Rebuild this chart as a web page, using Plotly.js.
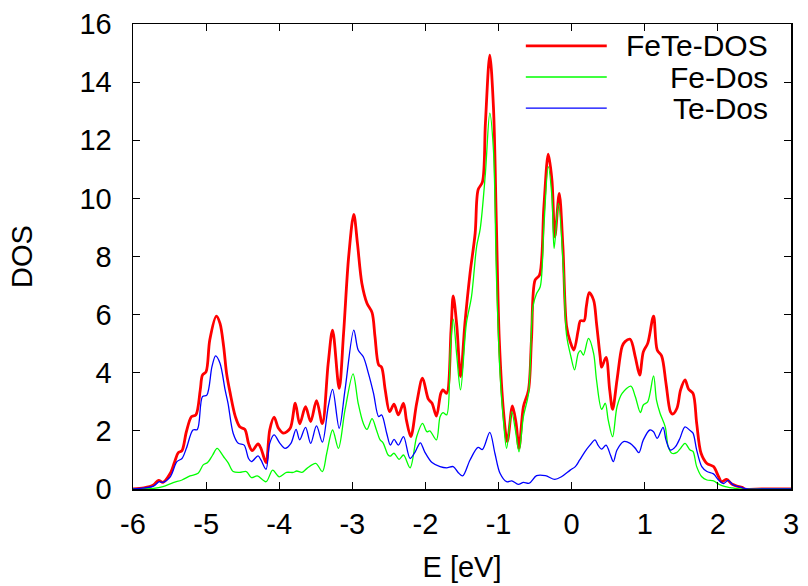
<!DOCTYPE html>
<html>
<head>
<meta charset="utf-8">
<script src="https://cdn.plot.ly/plotly-3.0.1.min.js"></script>
<style>html,body{margin:0;padding:0;background:#fff;}#chart{width:808px;height:586px;}</style>
</head>
<body>
<div id="chart"></div>
<script>
// FeTe total DOS (red)
var energyFeTe = [-6.00,-5.85,-5.72,-5.65,-5.59,-5.49,-5.43,-5.38,-5.33,-5.27,-5.20,-5.14,-5.08,-5.05,-5.00,-4.95,-4.86,-4.81,-4.76,-4.72,-4.67,-4.60,-4.54,-4.47,-4.42,-4.37,-4.29,-4.25,-4.18,-4.13,-4.07,-4.01,-3.94,-3.85,-3.78,-3.72,-3.64,-3.57,-3.49,-3.41,-3.33,-3.27,-3.18,-3.12,-3.05,-2.98,-2.93,-2.87,-2.80,-2.73,-2.69,-2.64,-2.60,-2.55,-2.49,-2.43,-2.37,-2.30,-2.26,-2.20,-2.12,-2.04,-1.96,-1.91,-1.85,-1.79,-1.76,-1.71,-1.65,-1.62,-1.57,-1.52,-1.46,-1.39,-1.32,-1.28,-1.22,-1.18,-1.12,-1.07,-1.03,-0.99,-0.93,-0.88,-0.81,-0.76,-0.72,-0.66,-0.59,-0.55,-0.50,-0.44,-0.38,-0.32,-0.27,-0.23,-0.17,-0.12,-0.07,-0.02,0.03,0.09,0.12,0.17,0.20,0.24,0.30,0.34,0.39,0.41,0.47,0.52,0.56,0.62,0.69,0.73,0.80,0.87,0.93,0.98,1.04,1.12,1.17,1.23,1.29,1.35,1.38,1.44,1.49,1.55,1.60,1.66,1.71,1.77,1.85,1.94,2.01,2.05,2.12,2.19,2.26,2.33,2.37,2.60,3.00];
var dosFeTe = [0,0.04,0.14,0.30,0.23,0.54,0.94,1.25,1.32,1.97,2.49,2.55,3.41,3.92,4.04,5.13,5.95,5.70,4.90,3.98,3.29,2.49,2.14,2.05,1.57,1.32,1.55,1.40,0.91,2.03,2.47,2.09,1.92,2.09,2.95,2.24,2.83,2.32,3.04,2.25,4.33,5.47,3.46,5.35,8.00,9.45,8.45,7.08,6.39,6.07,5.24,4.27,4.19,3.41,2.66,2.92,2.55,2.95,2.37,1.80,2.95,3.81,3.09,2.95,2.51,3.29,3.41,3.29,5.47,6.64,5.59,3.87,5.70,7.42,8.80,10.29,10.57,12.58,14.93,13.15,9.14,5.13,2.60,1.63,2.86,2.26,1.40,2.83,3.41,5.13,7.19,7.36,9.71,11.52,10.63,8.68,10.17,8.34,5.60,5.07,4.78,5.47,5.79,5.79,6.27,6.76,6.50,5.70,4.55,4.19,4.53,3.41,2.74,3.75,4.90,5.07,5.15,4.55,3.92,4.72,5.01,5.95,4.78,4.58,3.64,2.66,2.58,2.78,3.41,3.75,3.43,3.29,2.26,1.23,0.88,0.77,0.42,0.25,0.33,0.17,0.10,0.06,0,0,0];

// Fe partial DOS (green)
var energyFe = [-6.00,-5.72,-5.59,-5.45,-5.33,-5.22,-5.11,-5.04,-4.98,-4.91,-4.85,-4.76,-4.70,-4.63,-4.54,-4.45,-4.38,-4.30,-4.18,-4.09,-4.00,-3.90,-3.81,-3.76,-3.69,-3.62,-3.50,-3.41,-3.35,-3.27,-3.19,-3.10,-2.99,-2.92,-2.85,-2.80,-2.73,-2.67,-2.62,-2.58,-2.51,-2.48,-2.43,-2.36,-2.30,-2.21,-2.12,-2.04,-1.98,-1.94,-1.85,-1.80,-1.76,-1.71,-1.66,-1.62,-1.57,-1.52,-1.44,-1.37,-1.30,-1.25,-1.18,-1.12,-1.07,-1.03,-0.98,-0.93,-0.89,-0.82,-0.77,-0.72,-0.66,-0.59,-0.53,-0.48,-0.43,-0.38,-0.32,-0.27,-0.24,-0.18,-0.11,-0.07,-0.01,0.04,0.09,0.12,0.16,0.23,0.30,0.34,0.41,0.46,0.50,0.56,0.62,0.69,0.81,0.87,0.94,0.98,1.04,1.12,1.16,1.21,1.28,1.32,1.37,1.44,1.49,1.55,1.62,1.66,1.71,1.78,1.85,1.94,2.01,2.10,2.17,2.30,2.60,3.00];
var dosFe = [0,0.02,0.08,0.22,0.31,0.45,0.54,0.83,0.91,1.17,1.40,1.11,0.91,0.60,0.57,0.60,0.39,0.45,0.25,0.65,0.42,0.57,0.57,0.62,0.57,0.71,0.88,0.60,1.23,2.03,1.40,2.72,3.96,2.95,2.26,2.05,2.42,2.03,1.69,1.59,1.17,1.13,1.23,1.02,1.17,0.73,1.80,2.26,1.97,2.00,1.69,2.49,2.63,2.55,4.78,5.84,4.55,3.41,5.70,6.62,8.34,8.97,10.86,12.93,11.67,7.42,3.98,2.26,1.40,2.66,2.03,1.28,2.49,3.29,6.27,6.73,6.96,9.03,11.09,10.06,8.28,9.83,7.42,5.30,4.55,4.10,4.67,4.76,4.61,5.18,4.67,3.75,2.74,2.95,2.37,1.80,2.83,3.29,3.54,3.18,2.63,2.89,3.00,3.89,3.06,2.60,2.14,1.46,1.23,1.26,1.40,1.57,1.34,1.29,0.77,0.42,0.31,0.28,0.17,0.08,0.05,0,0,0];

// Te partial DOS (blue)
var energyTe = [-6.00,-5.72,-5.64,-5.59,-5.49,-5.40,-5.33,-5.27,-5.18,-5.12,-5.05,-4.99,-4.92,-4.87,-4.81,-4.74,-4.70,-4.63,-4.56,-4.48,-4.42,-4.38,-4.29,-4.25,-4.18,-4.13,-4.07,-3.99,-3.92,-3.84,-3.77,-3.72,-3.64,-3.57,-3.49,-3.41,-3.33,-3.27,-3.18,-3.10,-2.98,-2.92,-2.85,-2.78,-2.71,-2.64,-2.60,-2.53,-2.48,-2.43,-2.37,-2.30,-2.21,-2.14,-2.07,-2.01,-1.91,-1.80,-1.71,-1.62,-1.55,-1.49,-1.39,-1.28,-1.22,-1.12,-1.05,-0.98,-0.89,-0.82,-0.73,-0.66,-0.58,-0.48,-0.36,-0.23,-0.14,-0.02,0.05,0.11,0.18,0.25,0.32,0.36,0.41,0.47,0.53,0.57,0.62,0.71,0.80,0.87,0.92,0.98,1.07,1.12,1.17,1.25,1.29,1.35,1.42,1.48,1.55,1.62,1.66,1.71,1.78,1.85,1.94,2.01,2.08,2.14,2.21,2.33,2.40,2.60,3.00];
var dosTe = [0,0.10,0.25,0.23,0.42,0.94,1.05,1.40,2.03,2.05,3.18,3.23,4.21,4.58,4.33,3.41,2.95,1.92,1.57,1.51,1.05,0.94,1.14,1.00,0.68,1.57,1.86,1.57,1.40,1.57,2.05,1.69,2.12,1.57,2.17,1.61,2.83,3.43,2.09,3.41,5.47,4.78,4.55,3.98,3.29,2.49,2.55,1.92,1.51,1.71,1.51,1.80,1.05,1.28,1.59,1.28,0.91,0.77,0.73,0.77,0.56,0.45,1.00,1.43,1.36,1.95,1.23,0.54,0.25,0.28,0.16,0.23,0.20,0.46,0.46,0.33,0.42,0.65,0.77,1.00,1.28,1.51,1.69,1.51,1.37,1.51,1.17,0.94,1.34,1.63,1.57,1.40,1.25,1.69,2.03,1.97,1.74,2.12,1.69,1.34,1.46,1.74,2.14,2.01,1.92,1.34,0.77,0.60,0.52,0.31,0.19,0.30,0.14,0.05,0,0,0];

// axis ticks and labels
var xTickVals = [-6, -5, -4, -3, -2, -1, 0, 1, 2, 3];
var xTickText = ['-6', '-5', '-4', '-3', '-2', '-1', '0', '1', '2', '3'];
var yTickVals = [0, 2, 4, 6, 8, 10, 12, 14, 16];
var yTickText = ['0', '2', '4', '6', '8', '10', '12', '14', '16'];

var seriesNames = ['FeTe-DOS', 'Fe-Dos', 'Te-Dos'];
var xTitle = 'E [eV]';
var yTitle = 'DOS';

var FONT = 'Liberation Sans, Arial, Helvetica, sans-serif';
var FS = 29;
var colors = ['#ff0000', '#00ff00', '#0000ff'];
var widths = [2.8, 1.3, 1.3];

var traces = [
  {x: energyFeTe, y: dosFeTe},
  {x: energyFe, y: dosFe},
  {x: energyTe, y: dosTe}
].map(function (t, i) {
  return {
    x: t.x, y: t.y, type: 'scatter', mode: 'lines', name: seriesNames[i],
    line: {color: colors[i], width: widths[i], shape: 'spline', smoothing: 0.9},
    showlegend: false, hoverinfo: 'skip'
  };
});

// gnuplot-style key drawn as shapes + text (sample line left, label right-justified)
var keyY = [0.953, 0.886, 0.819];
var shapes = keyY.map(function (yy, i) {
  return {type: 'line', xref: 'paper', yref: 'paper', x0: 0.597, x1: 0.720, y0: yy, y1: yy,
          line: {color: colors[i], width: widths[i]}};
});
var annotations = keyY.map(function (yy, i) {
  return {xref: 'paper', yref: 'paper', x: 0.968, y: yy, xanchor: 'right', yanchor: 'middle',
          text: seriesNames[i], showarrow: false, font: {family: FONT, size: 30, color: '#000'}};
});

var axisCommon = {
  showgrid: false, zeroline: false, showline: true, mirror: 'ticks',
  linecolor: '#000', linewidth: 1.5, ticks: 'inside', ticklen: 7, tickwidth: 1,
  tickcolor: '#000', tickfont: {family: FONT, size: FS, color: '#000'}, tickmode: 'array'
};

var layout = {
  width: 808, height: 586,
  margin: {l: 133, r: 17, t: 24, b: 97, pad: 0},
  paper_bgcolor: '#fff', plot_bgcolor: '#fff',
  font: {family: FONT, size: FS, color: '#000'},
  xaxis: Object.assign({}, axisCommon, {
    range: [-6, 3], tickvals: xTickVals, ticktext: xTickText, ticklabelstandoff: 9,
    title: {text: xTitle, font: {family: FONT, size: FS, color: '#000'}, standoff: 17}
  }),
  yaxis: Object.assign({}, axisCommon, {
    range: [0, 16], tickvals: yTickVals, ticktext: yTickText, ticklabelstandoff: 14,
    title: {text: yTitle, font: {family: FONT, size: FS, color: '#000'}, standoff: 38}
  }),
  shapes: shapes,
  annotations: annotations,
  showlegend: false
};

Plotly.newPlot('chart', traces, layout, {displayModeBar: false, staticPlot: true});
</script>
</body>
</html>
